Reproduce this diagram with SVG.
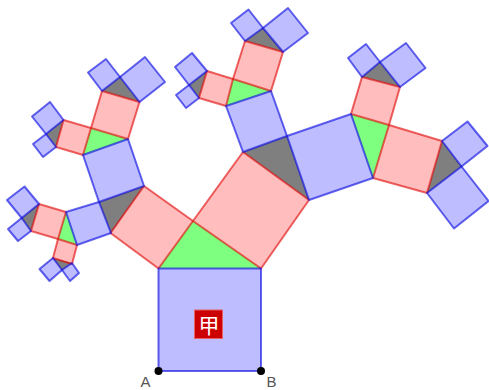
<svg xmlns="http://www.w3.org/2000/svg" width="489" height="390" viewBox="0 0 489 390">
<style>
polygon{stroke-width:2;stroke-linejoin:round}
.b{fill:#0000ff;fill-opacity:.26;stroke:#0000e0;stroke-opacity:.6}
.p{fill:#ff0000;fill-opacity:.26;stroke:#e00000;stroke-opacity:.6}
.g{fill:#00ff00;fill-opacity:.5;stroke:none}
.k{fill:#000;fill-opacity:.5;stroke:none}
.d{fill:#000}
.l{font-family:"Liberation Sans",Arial,sans-serif;font-size:15px;fill:#555}
</style>
<rect width="489" height="390" fill="#fff"/>
<g id="connectors"></g>
<g id="tree">
<polygon class="k" points="144,186 111,233 99,202"/>
<polygon class="k" points="243,152 309,200 287,136"/>
<polygon class="k" points="245,41 283,52 263,28"/>
<polygon class="k" points="207,71 199,98 189,85"/>
<polygon class="k" points="362,77 400,87 380,62"/>
<polygon class="k" points="442,141 427,193 461.500,166.500"/>
<polygon class="k" points="102,91 139.500,102 120,77"/>
<polygon class="k" points="63.500,120 56,147 46,134"/>
<polygon class="k" points="39,204 31,231 21.700,218"/>
<polygon class="k" points="53,258 72,263 62,270"/>
<polygon class="g" points="158.500,268.500 261,268.500 193,221"/>
<polygon class="g" points="226,106 271,91 233,79"/>
<polygon class="g" points="351,114 373,178 389,125"/>
<polygon class="g" points="83,155 128,139 91,128"/>
<polygon class="g" points="66,212 77,245 58,239"/>
<polygon class="p" points="158.500,268.500 193,221 144,186 110.500,233"/>
<polygon class="p" points="193,221 261,268.500 309,200 243,152"/>
<polygon class="p" points="233,79 271,91 283,52 245,41"/>
<polygon class="p" points="233,79 226,106 199,98 207,71"/>
<polygon class="p" points="351,114 389,125 400,87 362,77"/>
<polygon class="p" points="389,125 373,178 427,193 442,141"/>
<polygon class="p" points="91,128 128,139 139.500,102 102,91"/>
<polygon class="p" points="91,128 83,155 56,147 63.500,120"/>
<polygon class="p" points="66,212 58,239 31,231 39,204"/>
<polygon class="p" points="58,239 77,245 72,264 53,258"/>
<polygon class="b" points="158.500,268.500 261,268.500 261,371 158.500,371"/>
<polygon class="b" points="243,152 287,136 271,91 226,106"/>
<polygon class="b" points="287,136 309,200 373,178 351,114"/>
<polygon class="b" points="263,28 283,52 308,33 288,8"/>
<polygon class="b" points="245,41 263,28 248.500,9.500 231,23"/>
<polygon class="b" points="207,71 189,85 175,67 192,53"/>
<polygon class="b" points="189,85 199,98 186,108 176,95"/>
<polygon class="b" points="380,62 400,87 425.500,68 406,43"/>
<polygon class="b" points="362,77 380,62 366,44 348,58"/>
<polygon class="b" points="442,141 461.500,166.500 487.500,146 467.500,121.500"/>
<polygon class="b" points="461.500,166.500 427,193 454,228.500 488.500,201"/>
<polygon class="b" points="99,202 144,186 128,139 83,155"/>
<polygon class="b" points="120,77 139.500,102 165,82 145,57"/>
<polygon class="b" points="102,91 120,77 106,59 88,72.500"/>
<polygon class="b" points="63.500,120 46,134 32,116.500 50,102"/>
<polygon class="b" points="46,134 56,147 43,157 33,144"/>
<polygon class="b" points="99,202 111,233 77,245 66,212"/>
<polygon class="b" points="39,204 21.700,218 7,200 24.500,186.500"/>
<polygon class="b" points="21.700,218 31,231 18,241 8,229"/>
<polygon class="b" points="53,258 62,270 49.500,281 39.500,269"/>
<polygon class="b" points="62,270 72,263 79,273 70,281"/>
</g>
<g id="label-jia">
<rect x="194.500" y="310" width="28" height="28.500" fill="#cc0000" stroke="#e86060" stroke-width="1"/>
<text x="209" y="332.500" text-anchor="middle" font-size="21" fill="#fff" font-family="'Noto Sans CJK SC','Liberation Sans',sans-serif">甲</text>
</g>
<g id="A"><circle class="d" cx="158.500" cy="371" r="4"/><text class="l" x="140.500" y="386.800">A</text></g>
<g id="B"><circle class="d" cx="261" cy="371" r="4"/><text class="l" x="266.500" y="386.800">B</text></g>
</svg>
